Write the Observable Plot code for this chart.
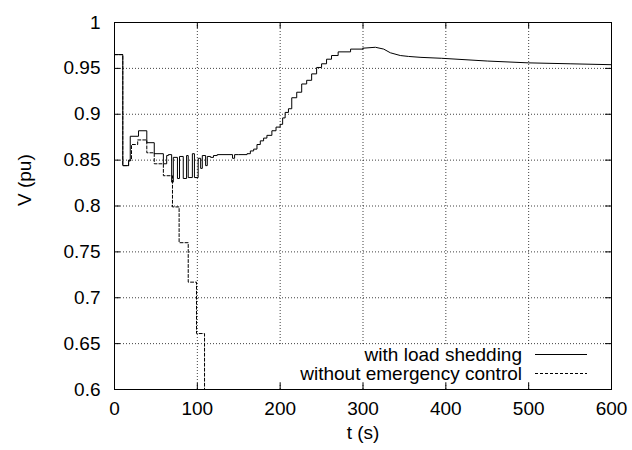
<!DOCTYPE html>
<html>
<head>
<meta charset="utf-8">
<script src="https://cdn.jsdelivr.net/npm/d3@7"></script>
<script src="https://cdn.jsdelivr.net/npm/@observablehq/plot@0.6"></script>
<style>
  html, body { margin: 0; padding: 0; background: #fff; }
  #wrap { position: relative; width: 632px; height: 450px; font-family: "Liberation Sans", Arial, sans-serif; }
  #legend { position: absolute; left: 272px; top: 345px; width: 338px; height: 46px; }
</style>
</head>
<body>
<div id="wrap"></div>
<script>
// Series: voltage (pu) vs time (s)
const withShedT = [0, 10, 17, 19, 29, 39, 48, 59, 63, 65, 69, 71, 76, 78.5, 83, 87, 89, 94, 96.5, 101, 104, 106, 110, 112, 116, 119.5, 124, 142.5, 145,
  150, 160, 164, 168, 172, 176, 180, 184, 190, 195, 200, 203, 206, 210, 214, 220, 226, 232, 238, 244, 250, 256, 262, 270, 285, 300, 315, 325, 333, 345, 355, 370, 395, 450, 500, 550, 600];
const withShedV = [0.965, 0.844, 0.849, 0.876, 0.882, 0.869, 0.857, 0.846, 0.855, 0.856, 0.826, 0.853, 0.830, 0.854, 0.830, 0.855, 0.831, 0.857, 0.831, 0.852, 0.841, 0.855, 0.844, 0.854, 0.853, 0.855, 0.856, 0.852, 0.856,
  0.856, 0.857, 0.860, 0.862, 0.867, 0.871, 0.874, 0.877, 0.882, 0.886, 0.889, 0.896, 0.902, 0.906, 0.918, 0.924, 0.933, 0.937, 0.944, 0.951, 0.955, 0.960, 0.964, 0.968, 0.971, 0.972, 0.973, 0.971, 0.967, 0.964, 0.963, 0.962, 0.961, 0.958, 0.956, 0.955, 0.954];

const noCtrlT = [0, 10, 17, 20.5, 28, 39, 48, 59, 70, 78, 89, 99, 108.7];
const noCtrlV = [0.965, 0.844, 0.850, 0.867, 0.872, 0.858, 0.846, 0.833, 0.799, 0.760, 0.717, 0.661, 0.55];

const xTicks = [0, 100, 200, 300, 400, 500, 600];
const yTicks = [0.6, 0.65, 0.7, 0.75, 0.8, 0.85, 0.9, 0.95, 1];
const seriesNames = ["with load shedding", "without emergency control"];
const xLabel = "t (s)";
const yLabel = "V (pu)";

const solid = withShedT.map((t, i) => ({t, v: withShedV[i]}));
const dashed = noCtrlT.map((t, i) => ({t, v: noCtrlV[i]}));
const gridX = xTicks.slice(1, -1);
const gridY = yTicks.slice(1, -1);
const gridStyle = {stroke: "#000", strokeOpacity: 0.75, strokeDasharray: "1,2", strokeWidth: 1};

const chart = Plot.plot({
  width: 632,
  height: 450,
  marginLeft: 114,
  marginRight: 21,
  marginTop: 22,
  marginBottom: 61,
  style: {fontFamily: "'Liberation Sans', Arial, sans-serif", fontSize: "19px", color: "#000", background: "#fff"},
  x: {domain: [0, 600], axis: null},
  y: {domain: [0.6, 1], axis: null},
  marks: [
    Plot.ruleX(gridX, gridStyle),
    Plot.ruleY(gridY, gridStyle),
    Plot.line(dashed, {x: "t", y: "v", curve: "step-after", stroke: "#000", strokeWidth: 1, strokeDasharray: "3,2", clip: true}),
    Plot.line(solid.filter(d => d.t <= 300), {x: "t", y: "v", curve: "step-after", stroke: "#000", strokeWidth: 1, clip: true}),
    Plot.line(solid.filter(d => d.t >= 300), {x: "t", y: "v", curve: "linear", stroke: "#000", strokeWidth: 1, clip: true}),
    Plot.ruleX(xTicks, {stroke: "#000", insetTop: 361}),
    Plot.ruleX(xTicks, {stroke: "#000", insetBottom: 361}),
    Plot.ruleY(yTicks, {stroke: "#000", insetRight: 491}),
    Plot.ruleY(yTicks, {stroke: "#000", insetLeft: 491}),
    Plot.frame({stroke: "#000", strokeWidth: 1}),
    Plot.axisX({ticks: xTicks, tickSize: 0, tickPadding: 12, label: null, tickFormat: d => String(d)}),
    Plot.axisY({ticks: yTicks, tickSize: 0, tickPadding: 14, label: null, tickFormat: d => String(+d.toFixed(2))}),
    Plot.text([xLabel], {text: d => d, frameAnchor: "bottom", dy: 49, fill: "#000"}),
    Plot.text([yLabel], {text: d => d, frameAnchor: "left", dx: -90, rotate: -90, fill: "#000"})
  ]
});

const wrap = document.getElementById("wrap");
wrap.appendChild(chart);

// Legend: opaque box inside the plot, bottom right
const legend = document.createElement("div");
legend.id = "legend";
const dashes = ["none", "3,2"];
const ns = "http://www.w3.org/2000/svg";
const lsvg = document.createElementNS(ns, "svg");
lsvg.setAttribute("width", 338);
lsvg.setAttribute("height", 46);
lsvg.style.display = "block";
lsvg.style.overflow = "visible";
const bg = document.createElementNS(ns, "rect");
bg.setAttribute("x", 0);
bg.setAttribute("y", 0);
bg.setAttribute("width", 338);
bg.setAttribute("height", 37);
bg.setAttribute("fill", "#fff");
lsvg.appendChild(bg);
seriesNames.forEach((name, i) => {
  const cy = 9.5 + i * 19;
  const txt = document.createElementNS(ns, "text");
  txt.setAttribute("x", 250);
  txt.setAttribute("y", cy);
  txt.setAttribute("text-anchor", "end");
  txt.setAttribute("dominant-baseline", "central");
  txt.setAttribute("font-family", "'Liberation Sans', Arial, sans-serif");
  txt.setAttribute("font-size", "19px");
  txt.setAttribute("fill", "#000");
  txt.textContent = name;
  lsvg.appendChild(txt);
  const ln = document.createElementNS(ns, "line");
  ln.setAttribute("x1", 263);
  ln.setAttribute("x2", 315);
  ln.setAttribute("y1", cy);
  ln.setAttribute("y2", cy);
  ln.setAttribute("stroke", "#000");
  ln.setAttribute("stroke-width", 1);
  ln.setAttribute("stroke-dasharray", dashes[i]);
  lsvg.appendChild(ln);
});
legend.appendChild(lsvg);
wrap.appendChild(legend);
</script>
</body>
</html>
